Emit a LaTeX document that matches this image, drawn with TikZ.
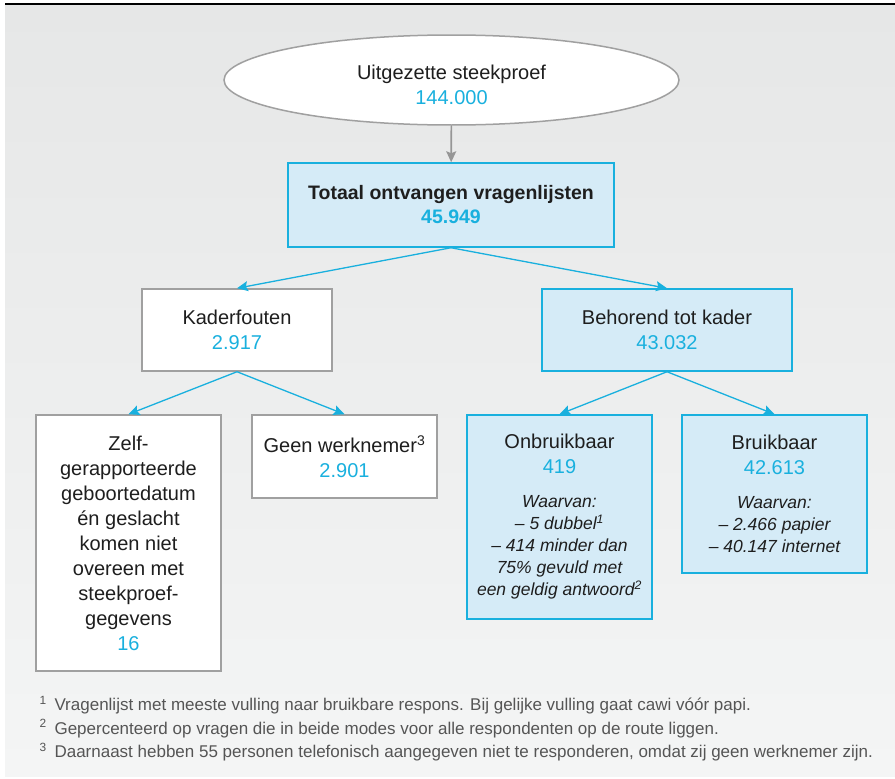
\documentclass[tikz,border=0pt]{standalone}
\usepackage{fontspec}
\setmainfont{Liberation Sans}
\usetikzlibrary{shapes.geometric,arrows.meta}

\definecolor{ink}{RGB}{30,30,30}
\definecolor{cijfer}{RGB}{25,176,222}
\definecolor{vakblauw}{RGB}{213,235,247}
\definecolor{lijngrijs}{RGB}{160,160,160}
\definecolor{pijlgrijs}{RGB}{150,150,150}
\definecolor{notegrijs}{RGB}{85,85,85}
\definecolor{bgtop}{RGB}{230,231,231}
\definecolor{bgbot}{RGB}{244,245,245}

\newcommand{\schuin}[1]{{\fontsize{17.5}{22}\selectfont\itshape #1}}

\begin{document}
\begin{tikzpicture}[x=1pt, y=-1pt,
        every node/.style={align=center, text=ink, font=\fontsize{20}{25}\selectfont},
        ovaal/.style={ellipse, draw=lijngrijs, line width=1.5pt, fill=white, minimum width=455pt, minimum height=90pt, inner sep=0pt},
        wit/.style={rectangle, draw=lijngrijs, line width=1.5pt, fill=white, inner sep=0pt},
        blauw/.style={rectangle, draw=cijfer, line width=1.5pt, fill=vakblauw, inner sep=0pt},
        pijl/.style={draw=cijfer, line width=1.3pt, -{Stealth[length=11pt, width=10pt, inset=2pt]}},
        grijspijl/.style={draw=pijlgrijs, line width=1.6pt, -{Stealth[length=11pt, width=10pt, inset=2pt]}},
        noot/.style={anchor=base west, align=left, text=notegrijs, font=\fontsize{17}{20}\selectfont}]
            \useasboundingbox (0,0) rectangle (895,779);
            \shade[top color=bgtop, bottom color=bgbot] (5,4) rectangle (895,776);
            \draw[line width=1.5pt, black] (5,4) -- (895,4);

            \node[ovaal] (steekproef) at (451.5,80) {};
            \node (steekproeftekst) at (451.5,85) {Uitgezette steekproef\\ \textcolor{cijfer}{144.000}};
            \node[blauw, minimum width=326pt, minimum height=84pt, font=\bfseries\fontsize{19.5}{24}\selectfont] (totaal) at (451,205) {Totaal ontvangen vragenlijsten\\ \textcolor{cijfer}{45.949}};

            \node[wit, minimum width=190pt, minimum height=82pt] (kader) at (237,330) {Kaderfouten\\ \textcolor{cijfer}{2.917}};
            \node[blauw, minimum width=250pt, minimum height=82pt] (behorend) at (667,330) {Behorend tot kader\\ \textcolor{cijfer}{43.032}};

            \node[wit, minimum width=185pt, minimum height=256pt] (zelf) at (128.5,543) {Zelf-\\ gerapporteerde\\ geboortedatum\\ én geslacht\\ komen niet\\ overeen met\\ steekproef-\\ gegevens\\ \textcolor{cijfer}{16}};
            \node[wit, minimum width=185pt, minimum height=83pt] (geen) at (344.5,456.5) {Geen werknemer\textsuperscript{3}\\ \textcolor{cijfer}{2.901}};
            \node[blauw, minimum width=185pt, minimum height=204pt] (onbruik) at (559.5,517) {Onbruikbaar\\ \textcolor{cijfer}{419}\\[9pt]
                \schuin{Waarvan:}\\[-3pt] \schuin{-- 5 dubbel\textsuperscript{1}}\\[-3pt] \schuin{-- 414 minder dan}\\[-3pt] \schuin{75\% gevuld met}\\[-3pt] \schuin{een geldig antwoord\textsuperscript{2}}};
            \node[blauw, minimum width=185pt, minimum height=158pt] (bruik) at (774.5,494) {Bruikbaar\\ \textcolor{cijfer}{42.613}\\[9pt]
                \schuin{Waarvan:}\\[-3pt] \schuin{-- 2.466 papier}\\[-3pt] \schuin{-- 40.147 internet}};

            \draw[grijspijl] (steekproef) -- (totaal);
            \draw[pijl] (totaal.south) -- (kader.north);
            \draw[pijl] (totaal.south) -- (behorend.north);
            \draw[pijl] (kader.south) -- (zelf.north);
            \draw[pijl] (kader.south) -- (geen.north);
            \draw[pijl] (behorend.south) -- (onbruik.north);
            \draw[pijl] (behorend.south) -- (bruik.north);

            \node[noot] (noot1) at (36,710.5) {\makebox[15pt][l]{\textsuperscript{1}}Vragenlijst met meeste vulling naar bruikbare respons. Bij gelijke vulling gaat cawi vóór papi.};
            \node[noot] (noot2) at (36,734) {\makebox[15pt][l]{\textsuperscript{2}}Gepercenteerd op vragen die in beide modes voor alle respondenten op de route liggen.};
            \node[noot] (noot3) at (36,757.5) {\makebox[15pt][l]{\textsuperscript{3}}Daarnaast hebben 55 personen telefonisch aangegeven niet te responderen, omdat zij geen werknemer zijn.};
        \end{tikzpicture}
\end{document}
